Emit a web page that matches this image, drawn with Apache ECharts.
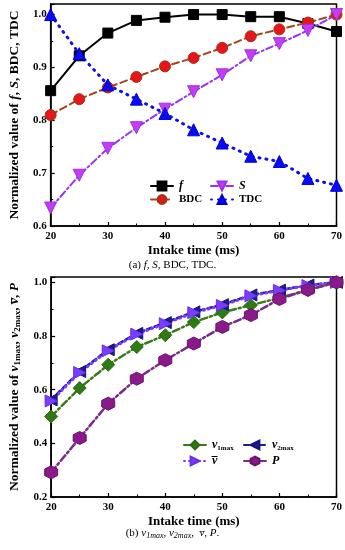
<!DOCTYPE html>
<html><head><meta charset="utf-8">
<script src="https://cdn.jsdelivr.net/npm/echarts@6/dist/echarts.min.js"></script>
<style>html,body{margin:0;padding:0;background:#fff}#c{width:345px;height:550px}</style>
</head><body><div id="c"></div>
<script>
var xTimes = [20,25,30,35,40,45,50,55,60,65,70];
// chart (a)
var fVals   = [0.856,0.922,0.965,0.989,0.995,1.0,1.0,0.996,0.996,0.983,0.968];
var bdcVals = [0.810,0.840,0.862,0.882,0.902,0.918,0.937,0.959,0.972,0.985,1.0];
var sVals   = [0.634,0.696,0.747,0.786,0.821,0.854,0.886,0.922,0.945,0.970,1.0];
var tdcVals = [1.0,0.926,0.867,0.840,0.813,0.782,0.757,0.732,0.722,0.690,0.677];
// chart (b)
var v1Vals  = [0.500,0.606,0.693,0.759,0.803,0.852,0.888,0.915,0.942,0.972,1.0];
var v2Vals  = [0.562,0.668,0.749,0.810,0.850,0.890,0.917,0.953,0.971,0.990,1.0];
var vbVals  = [0.558,0.664,0.745,0.807,0.846,0.887,0.914,0.950,0.970,0.988,1.0];
var pVals   = [0.292,0.420,0.548,0.641,0.710,0.772,0.834,0.878,0.938,0.972,1.0];

var yTicksA = [0.6,0.7,0.8,0.9,1.0];
var yTicksB = [0.2,0.4,0.6,0.8,1.0];

function pairs(v){ return xTimes.map(function(x,i){return [x,v[i]];}); }

var FF = 'Liberation Serif';
var hexPath = 'path://M0,-1L0.866,-0.5L0.866,0.5L0,1L-0.866,0.5L-0.866,-0.5Z';

function xAx(gi){
  return {type:'value', gridIndex:gi, min:20, max:70, interval:10,
    name:'Intake time (ms)', nameLocation:'middle', nameGap:18,
    nameTextStyle:{fontFamily:FF, fontWeight:'bold', fontSize:13, color:'#000'},
    axisLine:{lineStyle:{color:'#000', width:1.5}},
    axisTick:{inside:true, length:4, lineStyle:{color:'#000', width:1.2}},
    minorTick:{show:true, splitNumber:2, length:2.5, lineStyle:{color:'#000', width:1}},
    axisLabel:{fontFamily:FF, fontWeight:'bold', fontSize:11, color:'#000', margin:5},
    splitLine:{show:false}};
}
function yAx(gi, min, max, interval, name, rich){
  return {type:'value', gridIndex:gi, min:min, max:max, interval:interval,
    name:name, nameLocation:'middle', nameGap:25,
    nameTextStyle:{fontFamily:FF, fontWeight:'bold', fontSize:13.5, color:'#000', rich:rich},
    axisLine:{lineStyle:{color:'#000', width:1.5}},
    axisTick:{inside:true, length:4, lineStyle:{color:'#000', width:1.2}},
    minorTick:{show:true, splitNumber:2, length:2.5, lineStyle:{color:'#000', width:1}},
    axisLabel:{fontFamily:FF, fontWeight:'bold', fontSize:11, color:'#000', margin:4, showMaxLabel:false,
      formatter:function(v){ return v.toFixed(1); }},
    splitLine:{show:false}};
}

var richA = {
  b:{fontFamily:FF, fontWeight:'bold', fontSize:13.5, color:'#000'},
  i:{fontFamily:FF, fontWeight:'bold', fontStyle:'italic', fontSize:13.5, color:'#000'}
};
var richB = {
  b:{fontFamily:FF, fontWeight:'bold', fontSize:13.5, color:'#000'},
  i:{fontFamily:FF, fontWeight:'bold', fontStyle:'italic', fontSize:13.5, color:'#000'},
  s:{fontFamily:FF, fontWeight:'bold', fontSize:9, color:'#000', padding:[6,0,0,0]}
};

function ser(name, gi, vals, symbol, size, rot, fill, border, lineColor, lineType, lineWidth){
  return {name:name, type:'line', xAxisIndex:gi, yAxisIndex:gi, data:pairs(vals),
    symbol:symbol, symbolSize:size, symbolRotate:rot,
    itemStyle:{color:fill, borderColor:border, borderWidth:1},
    lineStyle:{color:lineColor, type:lineType, width:lineWidth, cap:'round'},
    emphasis:{disabled:true}, animation:false, z:3};
}

var legRich = {
  n:{fontFamily:FF, fontWeight:'bold', fontSize:11, color:'#000'},
  i:{fontFamily:FF, fontWeight:'bold', fontStyle:'italic', fontSize:12, color:'#000'},
  s:{fontFamily:FF, fontWeight:'bold', fontSize:7, color:'#000', padding:[6,0,0,0]}
};
var legLabels = {
  'f':'{i|f}', 'S':'{i|S}', 'BDC':'{n|BDC}', 'TDC':'{n|TDC}',
  'v1max':'{i|v}{s|1max}', 'v2max':'{i|v}{s|2max}', 'vbar':'{i|v\u0305}', 'P':'{i|P}'
};
function leg(name, left, top){
  return {data:[name], left:left, top:top, itemWidth:22, itemHeight:11, itemGap:4,
    padding:0, selectedMode:false,
    formatter:function(n){return legLabels[n];},
    textStyle:{rich:legRich, padding:[0,0,0,1]}};
}

var chart = echarts.init(document.getElementById('c'), null, {renderer:'canvas'});
chart.setOption({
  animation:false,
  backgroundColor:'#fff',
  grid:[
    {left:37, top:4, width:301, height:222, show:true, borderColor:'#000', borderWidth:1.5, backgroundColor:'transparent'},
    {left:37, top:277, width:301, height:220, show:true, borderColor:'#000', borderWidth:1.5, backgroundColor:'transparent'}
  ],
  xAxis:[xAx(0), xAx(1)],
  yAxis:[
    yAx(0, 0.6, 1.02, 0.1, '{b|Normalized value of }{i|f}{b|, }{i|S}{b|, BDC, TDC}', richA),
    yAx(1, 0.2, 1.02, 0.2, '{b|Normalized value of }{i|v}{s|1max}{b|, }{i|v}{s|2max}{b|, }{i|v\u0305}{b|, }{i|P}', richB)
  ],
  legend:[
    leg('f', 150, 180), leg('S', 210, 180), leg('BDC', 150, 194), leg('TDC', 210, 194),
    leg('v1max', 183, 439), leg('v2max', 243, 439), leg('vbar', 183, 455), leg('P', 243, 455)
  ],
  series:[
    ser('f', 0, fVals, 'rect', 10, 0, '#000', '#000', '#000', 'solid', 2),
    ser('BDC', 0, bdcVals, 'circle', 11, 0, '#e8141b', '#9a3a12', '#a2451a', [7,4], 2),
    ser('S', 0, sVals, 'triangle', 12, 180, '#c63cf5', '#9a30e8', '#9933ee', [7,3,2,3], 2),
    ser('TDC', 0, tdcVals, 'triangle', 12, 0, '#0a0af5', '#0000d0', '#1010e0', [1,6], 3),
    ser('v1max', 1, v1Vals, 'diamond', 13, 0, '#2f7a14', '#2a6a10', '#3a7a1a', [7,3,2,3], 2.5),
    ser('v2max', 1, v2Vals, 'triangle', 12, 90, '#1c1c8c', '#14147a', '#1c1c8c', [5,3], 2.5),
    ser('vbar', 1, vbVals, 'triangle', 12, -90, '#7a3cff', '#6a2ee8', '#7a3cff', [1,4], 3),
    ser('P', 1, pVals, hexPath, 13, 0, '#8a1a8a', '#6a126a', '#7a2a8a', [7,3,2,3], 2.5)
  ],
  graphic:[
    {type:'text', left:'center', top:260, style:{
      text:'{n|(a) }{i|f}{n|, }{i|S}{n|, BDC, TDC.}',
      rich:{n:{fontFamily:FF, fontSize:11, fill:'#000'}, i:{fontFamily:FF, fontStyle:'italic', fontSize:11, fill:'#000'}}}},
    {type:'text', left:'center', top:528, style:{
      text:'{n|(b) }{i|v}{s|1max}{n|, }{i|v}{s|2max}{n|,  }{i|v\u0305}{n|, }{i|P}{n|.}',
      rich:{n:{fontFamily:FF, fontSize:11, fill:'#000'}, i:{fontFamily:FF, fontStyle:'italic', fontSize:11, fill:'#000'},
            s:{fontFamily:FF, fontStyle:'italic', fontSize:8, fill:'#000', padding:[5,0,0,0]}}}}
  ]
});
</script></body></html>
